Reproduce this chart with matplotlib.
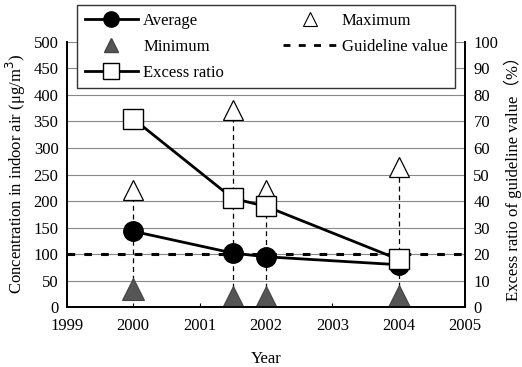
import matplotlib.pyplot as plt
import numpy as np

plt.rcParams['font.family'] = ['Liberation Serif', 'DejaVu Serif']
plt.rcParams['font.size'] = 12

years = [2000, 2001.5, 2002, 2004]
average = [143, 102, 95, 80]
maximum = [220, 372, 220, 265]
minimum = [35, 20, 20, 22]
excess_ratio = [71, 41, 38, 18]
guideline = 100

fig = plt.figure(figsize=(5.22, 3.67), dpi=100)
ax = fig.add_axes([0.128, 0.163, 0.763, 0.723])
ax2 = ax.twinx()

# range lines between min and max
for x, lo, hi in zip(years, minimum, maximum):
    ax.plot([x, x], [lo, hi], color='black', lw=0.9, ls=(0, (4, 3)), zorder=2)

ax.axhline(guideline, color='black', lw=2.2, ls=(0, (2.5, 3)), zorder=3)
ax.plot(years, average, color='black', lw=2, marker='o', ms=14, zorder=4)
ax.plot(years, maximum, ls='none', marker='^', ms=15, mfc='white', mec='black', mew=0.9, zorder=4)
ax.plot(years, minimum, ls='none', marker='^', ms=16, mfc='#555555', mec='#444444', mew=0.8, zorder=4)
ax2.plot(years, excess_ratio, color='black', lw=2, marker='s', ms=15, mfc='white', mec='black', mew=1, zorder=5)

ax.set_xlim(1999, 2005)
ax.set_ylim(0, 500)
ax2.set_ylim(0, 100)
ax.set_xticks(np.arange(1999, 2006))
ax.set_yticks(np.arange(0, 501, 50))
ax2.set_yticks(np.arange(0, 101, 10))
ax.yaxis.grid(True, color='#888888', lw=0.8)
ax.set_axisbelow(True)
ax.tick_params(axis='x', direction='in', length=3, pad=8)
ax.tick_params(axis='y', length=0, pad=6)
ax2.tick_params(axis='y', length=0, pad=6)
for a in (ax, ax2):
    for s in a.spines.values():
        s.set_linewidth(1.3)
    a.spines['top'].set_visible(False)

ax.set_xlabel('Year', labelpad=12)
ax.set_ylabel('Concentration in indoor air (μg/m$^3$)')
ax2.set_ylabel('Excess ratio of guideline value（%）', family=['Liberation Serif', 'Noto Sans CJK JP'])

h = [
    plt.Line2D([], [], color='black', lw=2, marker='o', ms=11),
    plt.Line2D([], [], ls='none', marker='^', ms=10, mfc='#555555', mec='#444444'),
    plt.Line2D([], [], color='black', lw=2, marker='s', ms=12, mfc='white', mec='black'),
    plt.Line2D([], [], ls='none', marker='^', ms=10, mfc='white', mec='black', mew=0.8),
    plt.Line2D([], [], color='black', lw=2, ls=(0, (2.5, 3))),
]
labels = ['Average', 'Minimum', 'Excess ratio', 'Maximum', 'Guideline value']
leg = fig.legend(h, labels, ncol=2, loc='upper left',
                 bbox_to_anchor=(0.148, 0.76, 0.724, 0.226), mode='expand',
                 fancybox=False, framealpha=1, edgecolor='#333333',
                 handlelength=3.2, handletextpad=0.3, labelspacing=0.6,
                 borderpad=0.45, borderaxespad=0)
leg.get_frame().set_linewidth(1)

fig.savefig('out.png', dpi=100)
